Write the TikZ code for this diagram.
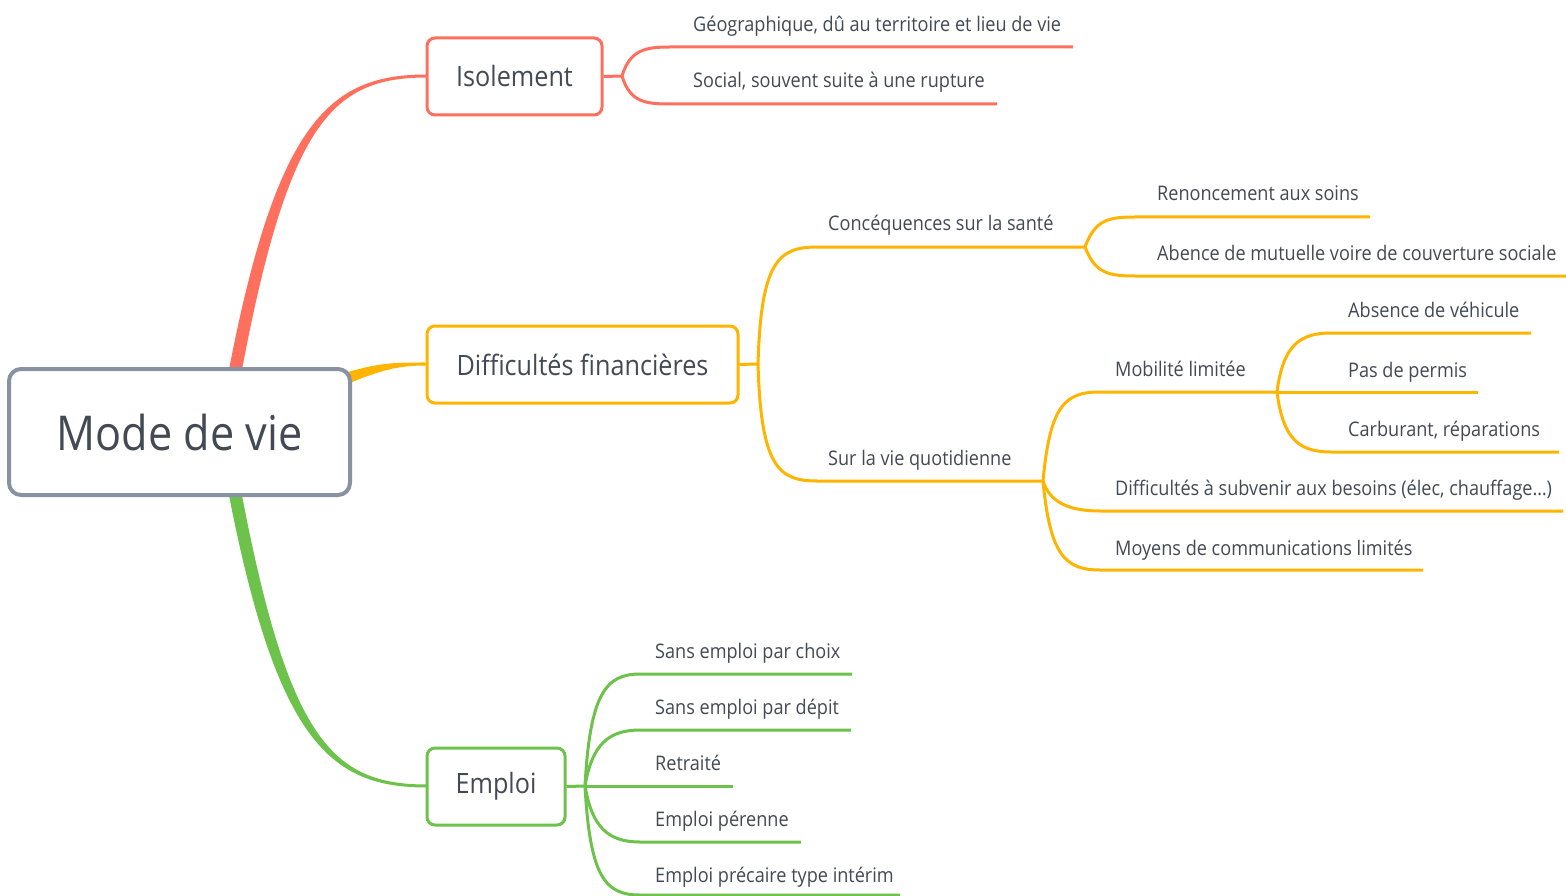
\documentclass[tikz,border=0pt]{standalone}
\usepackage{fontspec}
\setmainfont[FakeStretch=0.9]{Open Sans}
\definecolor{cred}{HTML}{FF6F5E}
\definecolor{corange}{HTML}{FFB400}
\definecolor{cgreen}{HTML}{6CC24A}
\definecolor{cgray}{HTML}{8892A3}
\definecolor{ctext}{HTML}{434A54}
\begin{document}
\begin{tikzpicture}[x=1pt,y=-1pt,
  topic/.style={draw, rounded corners=8pt, line width=3pt, fill=white, text=ctext,
    font=\fontsize{28}{32}\selectfont, minimum height=77pt, inner sep=0pt},
  leaf/.style={anchor=base west, inner sep=0pt, text=ctext, font=\fontsize{20.1}{24}\selectfont},
  rline/.style={draw=cred, line width=3pt},
  oline/.style={draw=corange, line width=3pt},
  gline/.style={draw=cgreen, line width=3pt}]
\useasboundingbox (0,0) rectangle (1566,896);
\fill[white] (0,0) rectangle (1566,896);

% main tapered branches
\fill[cred] (227,380) .. controls (276,120) and (330,74.5) .. (427,74.5) -- (427,77.5) .. controls (332,77.5) and (288,122) .. (240,380) -- cycle;
\fill[cgreen] (227,485) .. controls (276,742) and (330,787.5) .. (427,787.5) -- (427,784.5) .. controls (332,784.5) and (288,740) .. (240,485) -- cycle;
\fill[corange] (345,373) .. controls (380,362) and (400,362.5) .. (427,362.5) -- (427,365.5) .. controls (402,365.5) and (385,368) .. (345,385) -- cycle;

% root
\node[draw=cgray, line width=4pt, rounded corners=12pt, fill=white, text=ctext,
  minimum width=341pt, minimum height=126pt, inner sep=0pt,
  font=\fontsize{48}{56}\selectfont] (root) at (179.5,432) {Mode de vie};

% topics
\node[topic, draw=cred, minimum width=175pt] (iso) at (514.5,76.5) {Isolement};
\node[topic, draw=corange, minimum width=311pt] (dif) at (582.5,364.5) {Difficultés financières};
\node[topic, draw=cgreen, minimum width=138pt] (emp) at (496,786.5) {Emploi};

% Isolement
\coordinate (isoJ) at (622,76);
\coordinate (geoE) at (1073,47);
\coordinate (socE) at (997,104);
\draw[rline] (iso.east) -- (isoJ);
\draw[rline] (isoJ) .. controls (630,50) and (645,47) .. (670,47) -- (geoE);
\draw[rline] (isoJ) .. controls (630,102) and (645,104) .. (670,104) -- (socE);
\node[leaf] (geo) at (693,32) {Géographique, dû au territoire et lieu de vie};
\node[leaf] (soc) at (693,88) {Social, souvent suite à une rupture};

% Difficultes
\coordinate (difJ) at (758,364);
\coordinate (sanJ) at (1085,247);
\coordinate (renE) at (1370,217);
\coordinate (abeE) at (1566,276);
\coordinate (quoJ) at (1043,481);
\coordinate (mobJ) at (1277,392);
\coordinate (besE) at (1563,511);
\coordinate (comE) at (1423,570);
\coordinate (pdpE) at (1478,392);
\coordinate (vehE) at (1531,333);
\coordinate (carE) at (1559,452);
\draw[oline] (dif.east) -- (difJ);
\draw[oline] (difJ) .. controls (761,262) and (778,247) .. (817,247) -- (sanJ);
\draw[oline] (sanJ) .. controls (1095,220) and (1108,217) .. (1135,217) -- (renE);
\draw[oline] (sanJ) .. controls (1095,273) and (1108,276) .. (1135,276) -- (abeE);
\draw[oline] (difJ) .. controls (761,466) and (778,481) .. (817,481) -- (quoJ);
\draw[oline] (quoJ) .. controls (1050,405) and (1065,392) .. (1100,392) -- (mobJ);
\draw[oline] (quoJ) .. controls (1050,503) and (1070,511) .. (1100,511) -- (besE);
\draw[oline] (quoJ) .. controls (1050,555) and (1065,570) .. (1100,570) -- (comE);
\draw[oline] (mobJ) -- (pdpE);
\draw[oline] (mobJ) .. controls (1283,345) and (1300,333) .. (1331,333) -- (vehE);
\draw[oline] (mobJ) .. controls (1283,440) and (1300,452) .. (1331,452) -- (carE);
\node[leaf] (con) at (828,231) {Concéquences sur la santé};
\node[leaf] (quo) at (828,465) {Sur la vie quotidienne};
\node[leaf] (ren) at (1157,201) {Renoncement aux soins};
\node[leaf] (abe) at (1157,261) {Abence de mutuelle voire de couverture sociale};
\node[leaf] (mob) at (1115,376) {Mobilité limitée};
\node[leaf] (bes) at (1115,495) {Difficultés à subvenir aux besoins (élec, chauffage…)};
\node[leaf] (com) at (1115,555) {Moyens de communications limités};
\node[leaf] (veh) at (1348,317) {Absence de véhicule};
\node[leaf] (pdp) at (1348,377) {Pas de permis};
\node[leaf] (car) at (1348,436) {Carburant, réparations};

% Emploi
\coordinate (empJ) at (585,786);
\coordinate (choE) at (852,674);
\coordinate (depE) at (851,730);
\coordinate (retE) at (733,786);
\coordinate (perE) at (801,842);
\coordinate (intE) at (900,895);
\draw[gline] (emp.east) -- (empJ);
\draw[gline] (empJ) .. controls (590,695) and (605,674) .. (640,674) -- (choE);
\draw[gline] (empJ) .. controls (592,745) and (608,730) .. (640,730) -- (depE);
\draw[gline] (empJ) -- (retE);
\draw[gline] (empJ) .. controls (592,827) and (608,842) .. (640,842) -- (perE);
\draw[gline] (empJ) .. controls (590,877) and (605,895) .. (640,895) -- (intE);
\node[leaf] (cho) at (655,658) {Sans emploi par choix};
\node[leaf] (dep) at (655,714) {Sans emploi par dépit};
\node[leaf] (ret) at (655,770) {Retraité};
\node[leaf] (pere) at (655,826) {Emploi pérenne};
\node[leaf] (int) at (655,882) {Emploi précaire type intérim};
\end{tikzpicture}
\end{document}
